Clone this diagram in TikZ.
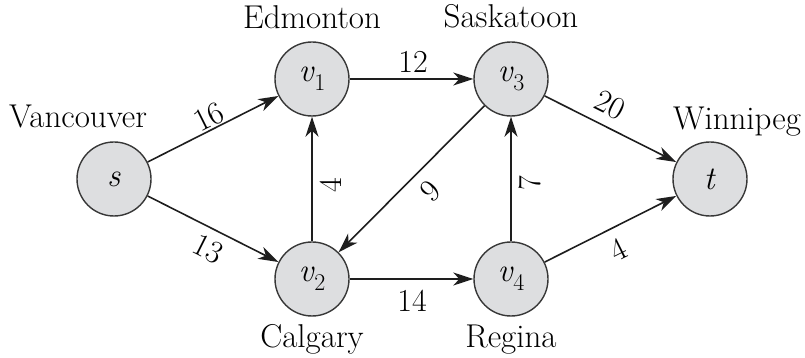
\documentclass[tikz,border=0pt]{standalone}
\usetikzlibrary{arrows.meta}
\definecolor{nodefill}{RGB}{221,222,224}
\definecolor{nodeline}{RGB}{55,55,55}
\definecolor{edgecol}{RGB}{30,30,30}
\newcommand{\vsubx}[1]{\textit{v}\raisebox{-0.28em}{\fontsize{24}{24}\selectfont #1}}
\tikzset{
  vert/.style={circle, draw=nodeline, fill=nodefill, line width=1.4pt, minimum size=74pt, inner sep=0pt, font=\fontsize{33}{33}\selectfont},
  city/.style={anchor=base, inner sep=0pt, font=\fontsize{33}{33}\selectfont},
  wlab/.style={inner sep=0pt, font=\fontsize{32}{32}\selectfont},
  edge/.style={draw=edgecol, line width=1.6pt, -{Stealth[length=20pt, width=13pt, inset=6pt]}}
}
\begin{document}
\begin{tikzpicture}[x=1pt, y=1pt]
\useasboundingbox (0,0) rectangle (805,358);
\node[vert] (s)  at (114,179) {\textit{s}};
\node[vert] (v1) at (312,279) {\vsubx{1}};
\node[vert] (v3) at (511,279) {\vsubx{3}};
\node[vert] (t)  at (710,179) {\textit{t}};
\node[vert] (v2) at (312,79)  {\vsubx{2}};
\node[vert] (v4) at (511,79)  {\vsubx{4}};

\node[city] (lv) at (78,230) {Vancouver};
\node[city] (le) at (312,329) {Edmonton};
\node[city] (ls) at (511,330) {Saskatoon};
\node[city] (lw) at (737,228) {Winnipeg};
\node[city] (lc) at (312,10) {Calgary};
\node[city] (lr) at (511,10) {Regina};

\draw[edge] (s) -- (v1);
\draw[edge] (s) -- (v2);
\draw[edge] (v1) -- (v3);
\draw[edge] (v2) -- (v1);
\draw[edge] (v3) -- (v2);
\draw[edge] (v2) -- (v4);
\draw[edge] (v4) -- (v3);
\draw[edge] (v3) -- (t);
\draw[edge] (v4) -- (t);

\node[wlab, rotate=26.6] (w16) at (209,241) {16};
\node[wlab, rotate=-26.6] (w13) at (208,109) {13};
\node[wlab] (w12) at (413,296) {12};
\node[wlab] (w14) at (412,57) {14};
\node[wlab, rotate=-26.6] (w20) at (610,253) {20};
\node[wlab, rotate=26.6] (w4b) at (618,108) {4};
\node[wlab, rotate=45] (w9) at (430,167) {9};
\node[wlab, rotate=90] (w4a) at (331,173) {4};
\node[wlab, rotate=90] (w7) at (530,175) {7};
\end{tikzpicture}
\end{document}
